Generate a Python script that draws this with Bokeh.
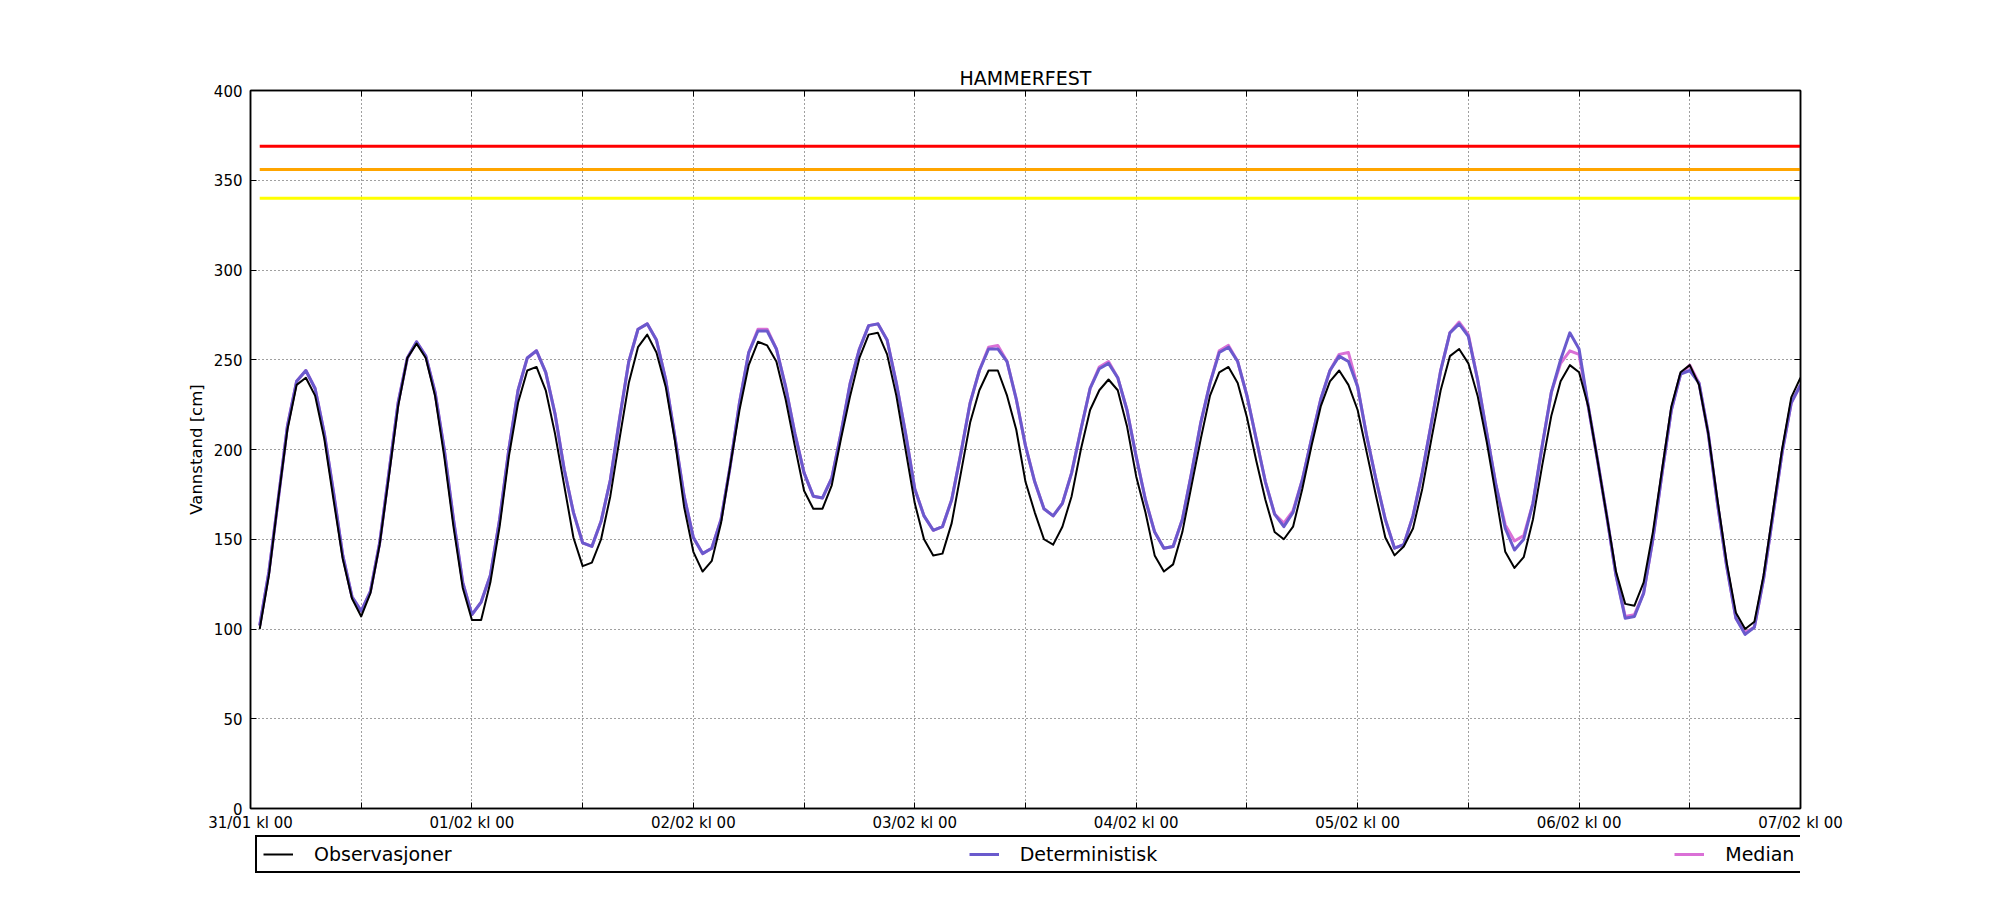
from bokeh.plotting import figure
from bokeh.layouts import column
from bokeh.models import Range1d, FixedTicker, LinearAxis, Legend, LegendItem
from bokeh.embed import file_html
from bokeh.resources import INLINE

# ---- data ----
hours = list(range(1, 169))  # hours after 31/01 kl 00

observasjoner = [
    100, 130, 172, 211, 236, 240, 230, 206, 172, 139,
    117, 107, 120, 147, 185, 224, 251, 259, 251, 230,
    196, 157, 123, 105, 105, 126, 157, 196, 226, 244,
    246, 233, 209, 180, 151, 135, 137, 150, 174, 206,
    237, 257, 264, 254, 235, 205, 168, 143, 132, 138,
    159, 191, 222, 247, 260, 258, 249, 228, 202, 177,
    167, 167, 180, 206, 230, 251, 264, 265, 253, 230,
    200, 170, 150, 141, 142, 159, 187, 215, 233, 244,
    244, 230, 211, 182, 165, 150, 147, 157, 174, 200,
    222, 233, 239, 233, 213, 185, 165, 141, 132, 136,
    154, 180, 206, 230, 243, 246, 237, 218, 194, 172,
    154, 150, 157, 178, 202, 224, 238, 244, 236, 222,
    198, 174, 151, 141, 146, 156, 178, 206, 233, 252,
    256, 248, 230, 204, 174, 143, 134, 140, 161, 191,
    219, 238, 247, 243, 224, 194, 163, 132, 114, 113,
    126, 154, 189, 224, 243, 247, 236, 209, 172, 137,
    109, 100, 104, 130, 165, 200, 229, 240,
]

deterministisk = [
    102, 132, 172, 213, 238, 244, 234, 209, 176, 141,
    118, 110, 121, 148, 187, 226, 251, 260, 252, 232,
    200, 161, 126, 108, 115, 130, 161, 200, 233, 251,
    255, 243, 220, 189, 165, 148, 146, 160, 183, 217,
    249, 267, 270, 261, 239, 207, 174, 151, 142, 145,
    161, 191, 226, 254, 266, 266, 256, 235, 209, 187,
    174, 173, 184, 209, 237, 256, 269, 270, 261, 237,
    209, 178, 163, 155, 157, 172, 198, 226, 244, 256,
    256, 249, 228, 202, 182, 167, 163, 170, 187, 211,
    234, 245, 248, 240, 222, 196, 172, 154, 145, 146,
    161, 187, 215, 237, 254, 257, 249, 230, 206, 182,
    164, 157, 165, 183, 206, 228, 244, 252, 249, 235,
    207, 183, 161, 145, 147, 163, 187, 215, 244, 265,
    270, 263, 239, 209, 180, 156, 144, 150, 170, 202,
    232, 250, 265, 256, 224, 194, 163, 130, 106, 107,
    120, 150, 187, 222, 242, 244, 237, 209, 170, 135,
    106, 97, 101, 128, 163, 198, 226, 236,
]

median = [
    102, 132, 172, 213, 238, 244, 234, 209, 176, 141,
    118, 110, 121, 148, 187, 226, 251, 260, 252, 232,
    200, 161, 126, 108, 115, 130, 161, 200, 233, 251,
    255, 243, 220, 189, 165, 148, 146, 160, 183, 217,
    249, 267, 270, 261, 239, 207, 174, 151, 142, 145,
    161, 191, 226, 254, 267, 267, 256, 235, 209, 187,
    174, 173, 184, 209, 237, 256, 269, 270, 261, 237,
    209, 178, 163, 155, 157, 172, 198, 226, 244, 257,
    258, 249, 228, 202, 182, 167, 163, 170, 187, 211,
    234, 246, 249, 240, 222, 196, 172, 154, 145, 146,
    161, 187, 215, 237, 255, 258, 249, 230, 206, 182,
    164, 159, 166, 183, 206, 228, 244, 253, 254, 235,
    207, 183, 161, 145, 147, 163, 187, 215, 244, 265,
    271, 264, 239, 209, 180, 158, 149, 152, 170, 202,
    232, 248, 255, 253, 224, 194, 163, 130, 107, 108,
    120, 150, 187, 222, 242, 247, 237, 209, 170, 135,
    106, 98, 101, 128, 163, 198, 226, 236,
]

series_names = ["Observasjoner", "Deterministisk", "Median"]
series_values = [observasjoner, deterministisk, median]
series_colors = ["black", "#6a5acd", "#da70d6"]
series_widths = [2, 3, 3]

threshold_levels = [369, 356, 340]
threshold_colors = ["#ff0000", "#ffa500", "#ffff00"]

x_ticks = list(range(0, 169, 12))
day_labels = ["31/01 kl 00", "01/02 kl 00", "02/02 kl 00", "03/02 kl 00",
              "04/02 kl 00", "05/02 kl 00", "06/02 kl 00", "07/02 kl 00"]
y_ticks = list(range(0, 401, 50))

FONT = "DejaVu Sans"
W = 1990

p = figure(width=W, height=834, output_backend="svg", toolbar_location=None,
           x_range=Range1d(0, 168), y_range=Range1d(0, 400),
           min_border_left=250, min_border_right=W - 1800,
           min_border_top=90, min_border_bottom=24)

p.background_fill_color = "white"
p.border_fill_color = "white"
p.outline_line_color = "black"
p.outline_line_width = 1.5
p.outline_line_alpha = 1

# title
p.title.text = "HAMMERFEST"
p.title.align = "center"
p.title.text_font = FONT
p.title.text_font_size = "19px"
p.title.text_font_style = "normal"
p.title.text_color = "black"
p.title.standoff = 4

# thresholds
for lvl, col in zip(threshold_levels, threshold_colors):
    p.line(x=[hours[0], hours[-1]], y=[lvl, lvl], line_color=col, line_width=3)

# series (median at the bottom, observations on top)
for vals, col, lw in reversed(list(zip(series_values, series_colors, series_widths))):
    p.line(hours, vals, line_color=col, line_width=lw, line_join="round")

label_map = {}
for t in x_ticks:
    label_map[t] = day_labels[t // 24] if t % 24 == 0 else ""

def style_axis(ax, show_labels=True):
    ax.axis_line_color = "black"
    ax.axis_line_width = 1.5
    ax.major_tick_line_color = "black"
    ax.major_tick_line_width = 1
    ax.major_tick_in = 6
    ax.major_tick_out = 0
    ax.minor_tick_line_color = None
    ax.major_label_text_font = FONT
    ax.major_label_text_color = "black"
    if show_labels:
        ax.major_label_text_font_size = "15px"
    else:
        ax.major_label_text_font_size = "0px"
        ax.major_label_text_alpha = 0
        ax.major_label_standoff = 0

xa = p.xaxis[0]
xa.ticker = FixedTicker(ticks=x_ticks)
xa.major_label_overrides = label_map
style_axis(xa)
xa.major_label_standoff = 5

ya = p.yaxis[0]
ya.ticker = FixedTicker(ticks=y_ticks)
style_axis(ya)
ya.major_label_standoff = 8
ya.axis_label = "Vannstand [cm]"
ya.axis_label_text_font = FONT
ya.axis_label_text_font_size = "16.5px"
ya.axis_label_text_font_style = "normal"
ya.axis_label_text_color = "black"
ya.axis_label_standoff = 5

top_ax = LinearAxis(ticker=FixedTicker(ticks=x_ticks))
style_axis(top_ax, show_labels=False)
p.add_layout(top_ax, "above")
right_ax = LinearAxis(ticker=FixedTicker(ticks=y_ticks))
style_axis(right_ax, show_labels=False)
p.add_layout(right_ax, "right")

# grid
p.xgrid.ticker = FixedTicker(ticks=x_ticks)
p.ygrid.ticker = FixedTicker(ticks=y_ticks)
for g in (p.xgrid[0], p.ygrid[0]):
    g.grid_line_color = "black"
    g.grid_line_alpha = 0.75
    g.grid_line_width = 1
    g.grid_line_dash = "1 3"

# ---- legend strip below the plot (its lines lie outside its view) ----
lg = figure(width=W, height=50, output_backend="svg", toolbar_location=None,
            title=None, x_axis_type=None, y_axis_type=None,
            x_range=Range1d(0, 168), y_range=Range1d(1000, 1001),
            min_border_left=250, min_border_right=W - 1800,
            min_border_top=0, min_border_bottom=0)
lg.outline_line_color = None
lg.xgrid.visible = False
lg.ygrid.visible = False
lg.background_fill_color = "white"
lg.border_fill_color = "white"

items = []
for name, vals, col, lw in zip(series_names, series_values, series_colors, series_widths):
    r = lg.line(hours, vals, line_color=col, line_width=lw)
    items.append(LegendItem(label=name, renderers=[r]))

legend = Legend(items=items, orientation="horizontal", location=(5, 11))
legend.margin = 0
legend.padding = 6
legend.spacing = 517
legend.glyph_width = 30
legend.glyph_height = 20
legend.label_standoff = 21
legend.label_text_font = FONT
legend.label_text_font_size = "19px"
legend.label_text_color = "black"
legend.border_line_color = "black"
legend.border_line_width = 2
legend.border_line_alpha = 1
legend.background_fill_color = "white"
legend.background_fill_alpha = 1
lg.add_layout(legend)

layout = column(p, lg, spacing=0)
open("out.html", "w").write(file_html(layout, INLINE))
